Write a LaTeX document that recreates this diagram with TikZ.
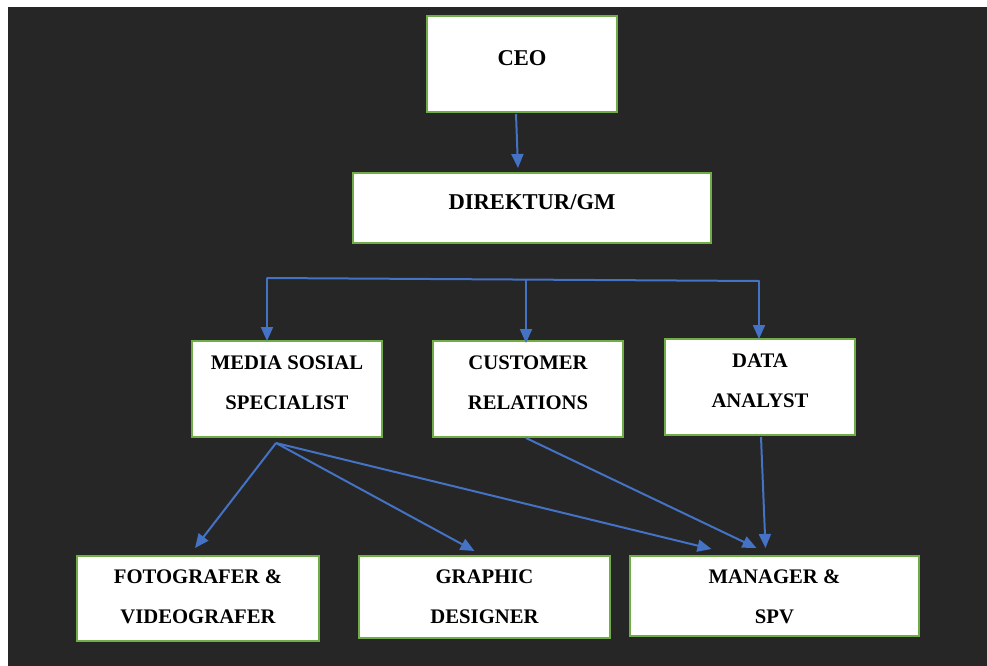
\documentclass[tikz,border=0pt]{standalone}
\usepackage{fontspec}
\setmainfont{Liberation Serif}
\usetikzlibrary{arrows.meta}
\definecolor{bgdark}{HTML}{262626}
\definecolor{boxgreen}{HTML}{70AD47}
\definecolor{linkblue}{HTML}{4472C4}
\begin{document}
\begin{tikzpicture}[x=1pt,y=-1pt,
  box/.style={draw=boxgreen, line width=2.2pt, fill=white, inner sep=0pt, outer sep=0pt},
  lbl/.style={font=\fontsize{20.7}{40}\selectfont\bfseries, align=center, text=black, inner sep=0pt},
  biglbl/.style={font=\fontsize{22.6}{40}\selectfont\bfseries, align=center, text=black, inner sep=0pt},
  link/.style={draw=linkblue, line width=2pt},
  arr/.style={link, -{Triangle[length=14pt,width=12pt]}}]
\fill[white] (0,0) rectangle (987,666);
\useasboundingbox (0,0) rectangle (987,666);
\fill[bgdark] (8,7) rectangle (997,676);

% boxes
\node[box, minimum width=190pt, minimum height=96pt] (ceo) at (522,64) {};
\node[box, minimum width=358pt, minimum height=70pt] (dir) at (532,208) {};
\node[box, minimum width=190pt, minimum height=96pt] (media) at (287,389) {};
\node[box, minimum width=190pt, minimum height=96pt] (cust) at (528,389) {};
\node[box, minimum width=190pt, minimum height=96pt] (data) at (760,387) {};
\node[box, minimum width=242pt, minimum height=85pt] (foto) at (198,598.5) {};
\node[box, minimum width=251pt, minimum height=82pt] (graph) at (484.5,597) {};
\node[box, minimum width=289pt, minimum height=80pt] (man) at (774.5,596) {};

% texts
\node[biglbl] (ceo-t) at ([yshift=6pt]ceo.center) {CEO};
\node[biglbl] (dir-t) at ([yshift=6pt]dir.center) {DIREKTUR/GM};
\node[lbl] (media-t) at ([yshift=6pt]media.center) {MEDIA SOSIAL\\SPECIALIST};
\node[lbl] (cust-t) at ([yshift=6pt]cust.center) {CUSTOMER\\RELATIONS};
\node[lbl] (data-t) at ([yshift=6pt]data.center) {DATA\\ANALYST};
\node[lbl] (foto-t) at ([yshift=2pt]foto.center) {FOTOGRAFER \&\\VIDEOGRAFER};
\node[lbl] (graph-t) at ([yshift=0.5pt]graph.center) {GRAPHIC\\DESIGNER};
\node[lbl] (man-t) at ([yshift=-0.5pt]man.center) {MANAGER \&\\SPV};

% connectors
\draw[arr] ([xshift=-6pt,yshift=-2pt]ceo.south) -- ([xshift=-14pt,yshift=5pt]dir.north);

\coordinate (b1) at (267,278);
\coordinate (b2) at (526,280);
\coordinate (b3) at (759,281);
\draw[link, line cap=round] (b1) -- (b3);
\draw[arr] (b1) -- (b1 |- media.north);
\draw[arr] (b2) -- ([yshift=-2pt]b2 |- cust.north);
\draw[arr] (b3) -- (b3 |- data.north);

\coordinate (m0) at ([xshift=-11pt,yshift=-6pt]media.south);
\draw[arr] (m0) -- ([xshift=-3pt,yshift=8pt]foto.north);
\draw[arr] (m0) -- ([xshift=-10pt,yshift=5pt]graph.north);
\draw[arr] (m0) -- ([xshift=-63pt,yshift=7pt]man.north);
\draw[arr] ([xshift=-2pt,yshift=-1pt]cust.south) -- ([xshift=-18pt,yshift=8pt]man.north);
\draw[arr] ([xshift=1pt,yshift=-2pt]data.south) -- ([xshift=-9pt,yshift=8pt]man.north);
\end{tikzpicture}
\end{document}
